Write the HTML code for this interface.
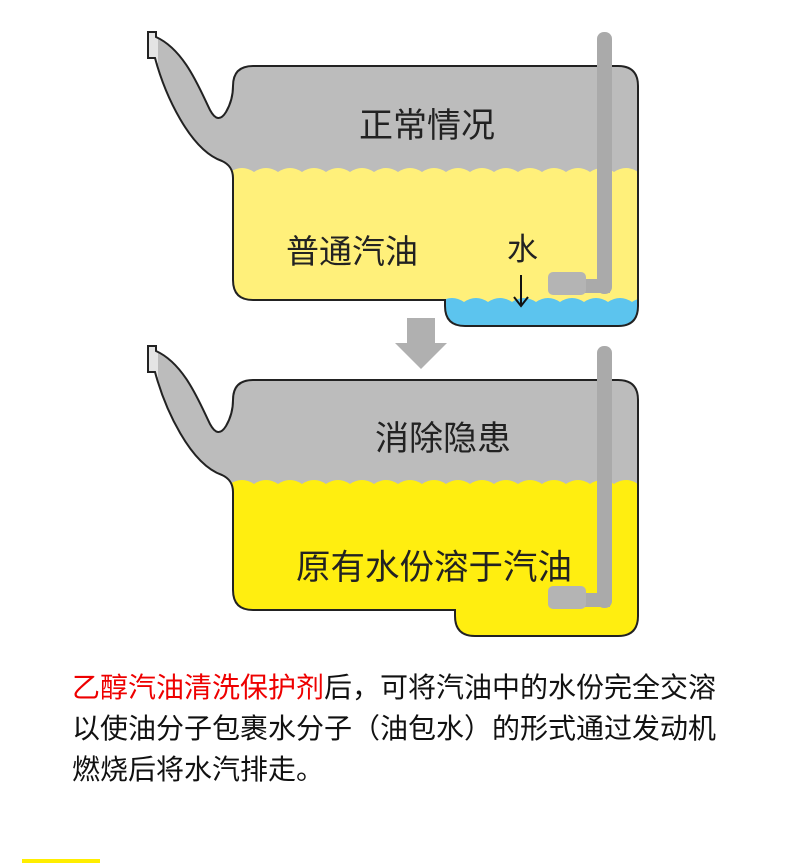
<!DOCTYPE html>
<html><head><meta charset="utf-8"><style>
body{margin:0;width:790px;height:863px;background:#fff;overflow:hidden;position:relative;font-family:"Liberation Sans","Noto Sans CJK SC",sans-serif}
.t{position:absolute;left:72px;font-size:28px;color:#111;line-height:41px;white-space:nowrap}
</style></head><body>
<svg width="790" height="863" style="position:absolute;left:0;top:0">
<defs>
<path id="b1" d="M253,66 H618 Q638,66 638,86 V306 Q638,326 618,326 H465 Q445,326 445,306 V300 H253 Q233,300 233,280 V178 Q233,166 222,161 C190,150 165,95 155,58 L148,58 V32 L156,32 V37 C185,50 200,90 210,110 Q218,125 226,112 Q233,100 233,86 Q233,66 253,66 Z"/>
<path id="b2" d="M253,380 H618 Q638,380 638,400 V616 Q638,636 618,636 H475 Q455,636 455,616 V610 H253 Q233,610 233,590 V492 Q233,480 222,475 C190,464 165,409 155,372 L148,372 V346 L156,346 V351 C185,364 200,404 210,424 Q218,439 226,426 Q233,414 233,400 Q233,380 253,380 Z"/>
<clipPath id="c1"><use href="#b1"/></clipPath>
<clipPath id="c2"><use href="#b2"/></clipPath>
</defs>
<g clip-path="url(#c1)">
<rect x="140" y="20" width="520" height="320" fill="#bcbcbc"/>
<path d="M230,172 q12,-8 24,0 q12,-8 24,0 q12,-8 24,0 q12,-8 24,0 q12,-8 24,0 q12,-8 24,0 q12,-8 24,0 q12,-8 24,0 q12,-8 24,0 q12,-8 24,0 q12,-8 24,0 q12,-8 24,0 q12,-8 24,0 q12,-8 24,0 q12,-8 24,0 q12,-8 24,0 q12,-8 24,0 V340 H230Z" fill="#fff07a"/>
<path d="M440,302 q12,-8 24,0 q12,-8 24,0 q12,-8 24,0 q12,-8 24,0 q12,-8 24,0 q12,-8 24,0 q12,-8 24,0 q12,-8 24,0 q12,-8 24,0 V340 H440Z" fill="#5cc4ee"/>
<rect x="140" y="28" width="18" height="35" fill="#e4e4e4"/>
</g>
<use href="#b1" fill="none" stroke="#222" stroke-width="2"/>
<rect x="597" y="32" width="15" height="262" rx="7" fill="#aaa"/>
<rect x="570" y="279" width="40" height="14" fill="#aaa"/>
<rect x="548" y="272" width="38" height="23" rx="5" fill="#b4b4b4"/>

<g clip-path="url(#c2)">
<rect x="140" y="330" width="520" height="320" fill="#bcbcbc"/>
<path d="M230,484 q12,-8 24,0 q12,-8 24,0 q12,-8 24,0 q12,-8 24,0 q12,-8 24,0 q12,-8 24,0 q12,-8 24,0 q12,-8 24,0 q12,-8 24,0 q12,-8 24,0 q12,-8 24,0 q12,-8 24,0 q12,-8 24,0 q12,-8 24,0 q12,-8 24,0 q12,-8 24,0 q12,-8 24,0 V650 H230Z" fill="#ffee10"/>
<rect x="140" y="342" width="18" height="35" fill="#e4e4e4"/>
</g>
<use href="#b2" fill="none" stroke="#222" stroke-width="2"/>
<rect x="597" y="346" width="15" height="262" rx="7" fill="#aaa"/>
<rect x="570" y="593" width="40" height="14" fill="#aaa"/>
<rect x="548" y="586" width="38" height="23" rx="5" fill="#b4b4b4"/>

<rect x="407" y="318" width="28" height="26" fill="#b0b0b0"/>
<path d="M395,343 H447 L421,369 Z" fill="#b0b0b0"/>
<path d="M521,275 V305 M514,297 L521,306 L528,297" stroke="#111" stroke-width="2" fill="none"/>
<g font-family="Liberation Sans,Noto Sans CJK SC,sans-serif" fill="#222">
<text x="427" y="137" font-size="34" text-anchor="middle">正常情况</text>
<text x="286" y="263" font-size="33">普通汽油</text>
<text x="507" y="260" font-size="31">水</text>
<text x="443" y="450" font-size="34" text-anchor="middle">消除隐患</text>
<text x="296" y="579" font-size="34.5">原有水份溶于汽油</text>
</g>
<rect x="22" y="859" width="78" height="4" fill="#ffee00"/>
</svg>
<div class="t" style="top:667px"><span style="color:#e00">乙醇汽油清洗保护剂</span>后，可将汽油中的水份完全交溶</div>
<div class="t" style="top:708px">以使油分子包裹水分子（油包水）的形式通过发动机</div>
<div class="t" style="top:749px">燃烧后将水汽排走。</div>
</body></html>
